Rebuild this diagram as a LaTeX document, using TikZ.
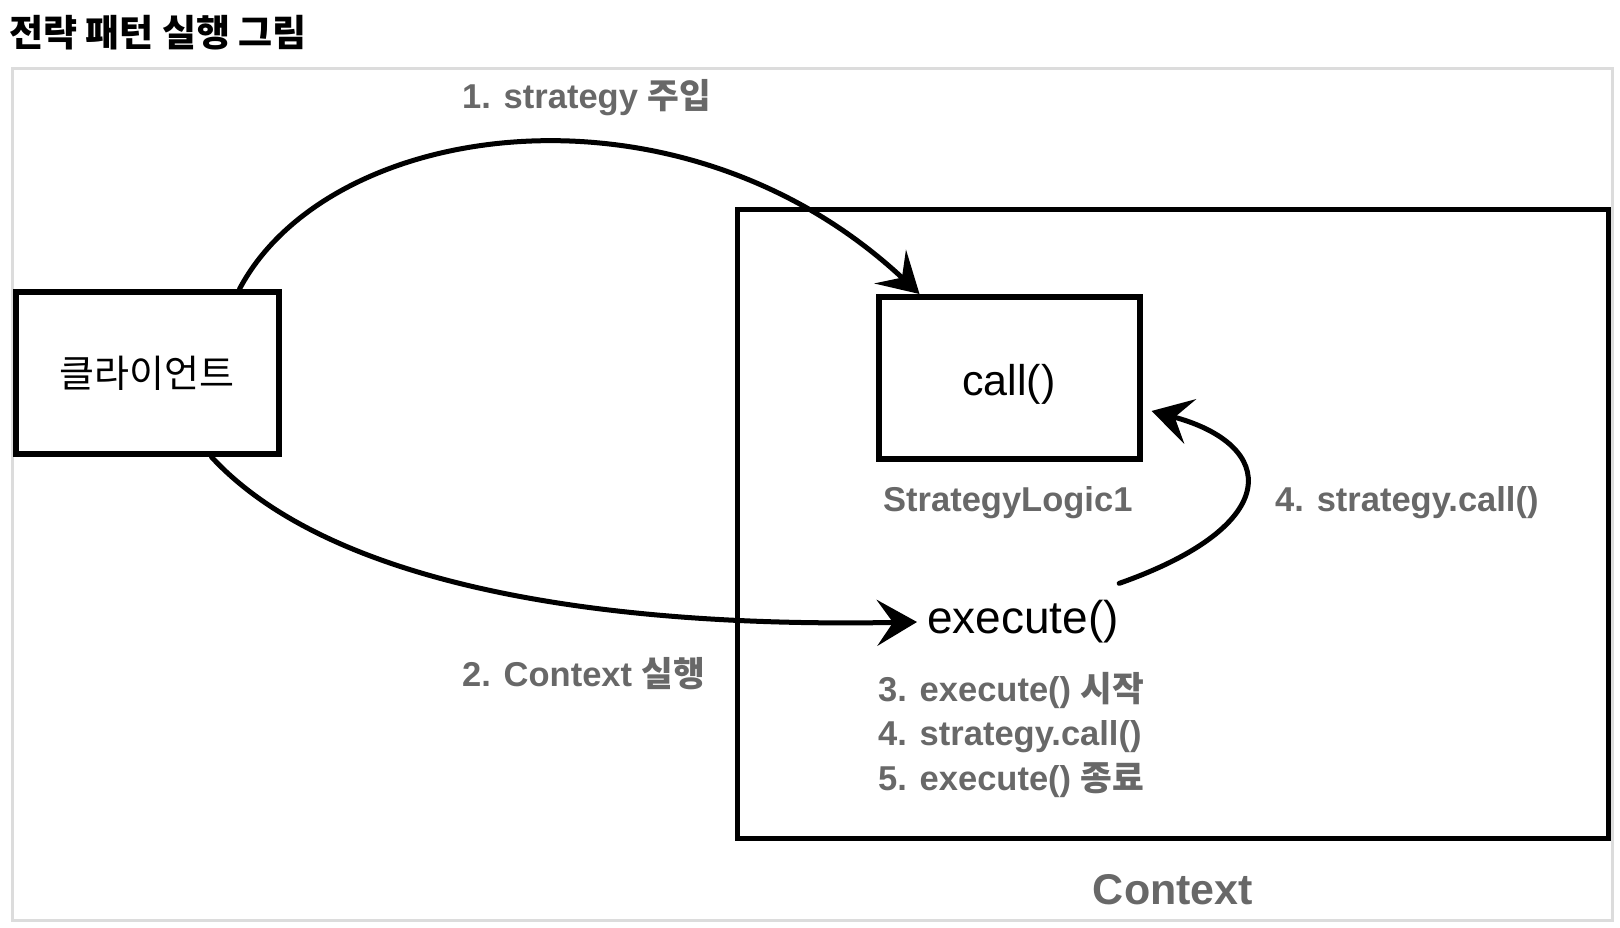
\documentclass[tikz,border=0pt]{standalone}
\usepackage{fontspec}
\setmainfont{Liberation Sans}
\newfontfamily\krfont{Noto Sans CJK KR}
\usetikzlibrary{arrows.meta}
\definecolor{lbl}{RGB}{104,104,104}
\definecolor{framegray}{RGB}{220,220,220}
\newcommand\K[1]{{\krfont #1}}
\begin{document}
\begin{tikzpicture}[x=1pt,y=-1pt,
  box/.style={draw, line width=6pt, inner sep=0pt},
  lab/.style={text=lbl, inner sep=0pt, anchor=west, font=\bfseries\fontsize{34.5}{38}\selectfont},
  arr/.style={line width=5pt, line cap=round, -{Stealth[length=40pt,width=46pt,inset=16pt]}}]
\useasboundingbox (0,0) rectangle (1620,928);
\draw[framegray, line width=3pt] (12,69) rectangle (1612,920);
\node[anchor=west, inner sep=0pt, font=\krfont\bfseries\fontsize{37}{40}\selectfont] (title) at (9,33) {전략 패턴 실행 그림};
\node[box, minimum width=263pt, minimum height=162pt] (client) at (147,373) {\krfont\fontsize{38}{42}\selectfont 클라이언트};
\node[draw, line width=5pt, minimum width=871pt, minimum height=628pt] (ctx) at (1172.5,524) {};
\node[box, minimum width=261pt, minimum height=162pt, text height=34pt, text depth=0pt, font=\fontsize{43}{46}\selectfont] (call) at (1009,378) {call()};
\node[anchor=west, inner sep=0pt, font=\fontsize{46}{50}\selectfont] (exec) at (927,622) {execute()};
\node[lab] (l1) at (462,98) {1. strategy \K{주입}};
\node[lab] (l2) at (462,674) {2. Context \K{실행}};
\node[lab] (sl) at (883,503) {StrategyLogic1};
\node[lab] (l4) at (1275,503) {4. strategy.call()};
\node[lab] (m1) at (878,690) {3. execute() \K{시작}};
\node[lab] (m2) at (878,737) {4. strategy.call()};
\node[lab] (m3) at (878,780) {5. execute() \K{종료}};
\node[text=lbl, inner sep=0pt, font=\bfseries\fontsize{43}{46}\selectfont] (ctxl) at (1173,890) {Context};
\draw[arr] ([xshift=-42pt]client.north east) .. controls (330,118) and (680,70) .. ([xshift=44pt]call.north west);
\draw[arr] ([xshift=-70pt]client.south east) .. controls (330,585) and (600,628) .. ([xshift=-10pt]exec.west);
\draw[arr] ([yshift=17pt]exec.north east) .. controls (1285,525) and (1278,445) .. ([xshift=9pt,yshift=-33pt]call.east);
\end{tikzpicture}
\end{document}
